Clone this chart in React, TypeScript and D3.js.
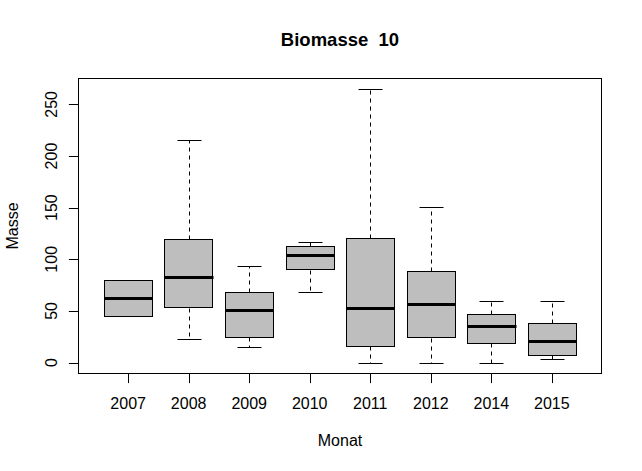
import React from 'react';
import * as d3 from 'd3';

// Boxplot summary per year
const years = ['2007', '2008', '2009', '2010', '2011', '2012', '2014', '2015'];
const lowWhisker = [45.5, 23.3, 15.5, 68.8, 0, 0, 0, 3.9];
const q1 = [45.5, 53.3, 25.2, 90.1, 16.5, 24.2, 19.4, 7.8];
const medians = [63.0, 82.4, 50.7, 103.7, 53.3, 57.2, 35.9, 21.3];
const q3 = [80.4, 119.2, 68.8, 112.4, 121.1, 88.2, 47.5, 38.8];
const highWhisker = [80.4, 215.1, 94.0, 116.3, 264.5, 150.5, 59.4, 59.4];
const yTicks = [0, 50, 100, 150, 200, 250];

const W = 642;
const H = 471;
const plot = { left: 78.5, right: 601.5, top: 78.5, bottom: 373.5 };
const font = 'Liberation Sans, Arial, sans-serif';

const App: React.FC = () => {
  const n = years.length;
  const x = d3.scaleLinear().domain([0.5 - 0.04 * n, n + 0.5 + 0.04 * n]).range([plot.left, plot.right]);
  const y = d3.scaleLinear().domain([-10.58, 275.08]).range([plot.bottom, plot.top]);
  const boxHalf = x(1.4) - x(1);
  const capHalf = boxHalf / 2;
  const px = (v: number) => Math.round(v) + 0.5;

  return (
    <div style={{ position: 'absolute', left: 0, top: 0 }}>
      <svg width={W} height={H} style={{ display: 'block', background: '#fff' }}>
        <text x={(plot.left + plot.right) / 2} y={46} textAnchor="middle" style={{ whiteSpace: 'pre' }}
          fontFamily={font} fontWeight="bold" fontSize={18.5}>{'Biomasse  10'}</text>

        {years.map((yr, i) => {
          const cx = x(i + 1);
          const xc = px(cx);
          return (
            <g key={yr}>
              {highWhisker[i] > q3[i] && (
                <line x1={xc} x2={xc} y1={px(y(q3[i]))} y2={px(y(highWhisker[i]))}
                  stroke="#000" strokeDasharray="4,4" />
              )}
              {lowWhisker[i] < q1[i] && (
                <line x1={xc} x2={xc} y1={px(y(q1[i]))} y2={px(y(lowWhisker[i]))}
                  stroke="#000" strokeDasharray="4,4" />
              )}
              <line x1={px(cx - capHalf)} x2={px(cx + capHalf)} y1={px(y(highWhisker[i]))} y2={px(y(highWhisker[i]))} stroke="#000" />
              <line x1={px(cx - capHalf)} x2={px(cx + capHalf)} y1={px(y(lowWhisker[i]))} y2={px(y(lowWhisker[i]))} stroke="#000" />
              <rect x={px(cx - boxHalf)} y={px(y(q3[i]))}
                width={Math.round(2 * boxHalf)} height={Math.round(y(q1[i]) - y(q3[i]))}
                fill="#bebebe" stroke="#000" />
              <line x1={px(cx - boxHalf)} x2={px(cx + boxHalf)} y1={Math.round(y(medians[i])) + 0.5} y2={Math.round(y(medians[i])) + 0.5}
                stroke="#000" strokeWidth={3} />
            </g>
          );
        })}

        <rect x={plot.left} y={plot.top} width={plot.right - plot.left} height={plot.bottom - plot.top}
          fill="none" stroke="#000" />

        {yTicks.map(t => (
          <g key={t}>
            <line x1={plot.left - 9.6} x2={plot.left} y1={px(y(t))} y2={px(y(t))} stroke="#000" />
            <text transform={`translate(56.5,${y(t)}) rotate(-90)`} textAnchor="middle"
              fontFamily={font} fontSize={16}>{t}</text>
          </g>
        ))}

        {years.map((yr, i) => (
          <g key={yr}>
            <line x1={px(x(i + 1))} x2={px(x(i + 1))} y1={plot.bottom} y2={plot.bottom + 9.6} stroke="#000" />
            <text x={x(i + 1)} y={408.5} textAnchor="middle" fontFamily={font} fontSize={16}>{yr}</text>
          </g>
        ))}

        <text x={(plot.left + plot.right) / 2} y={446} textAnchor="middle" fontFamily={font} fontSize={16}>Monat</text>
        <text transform={`translate(18.3,${(plot.top + plot.bottom) / 2}) rotate(-90)`} textAnchor="middle"
          fontFamily={font} fontSize={16}>Masse</text>
      </svg>
    </div>
  );
};

export default App;
